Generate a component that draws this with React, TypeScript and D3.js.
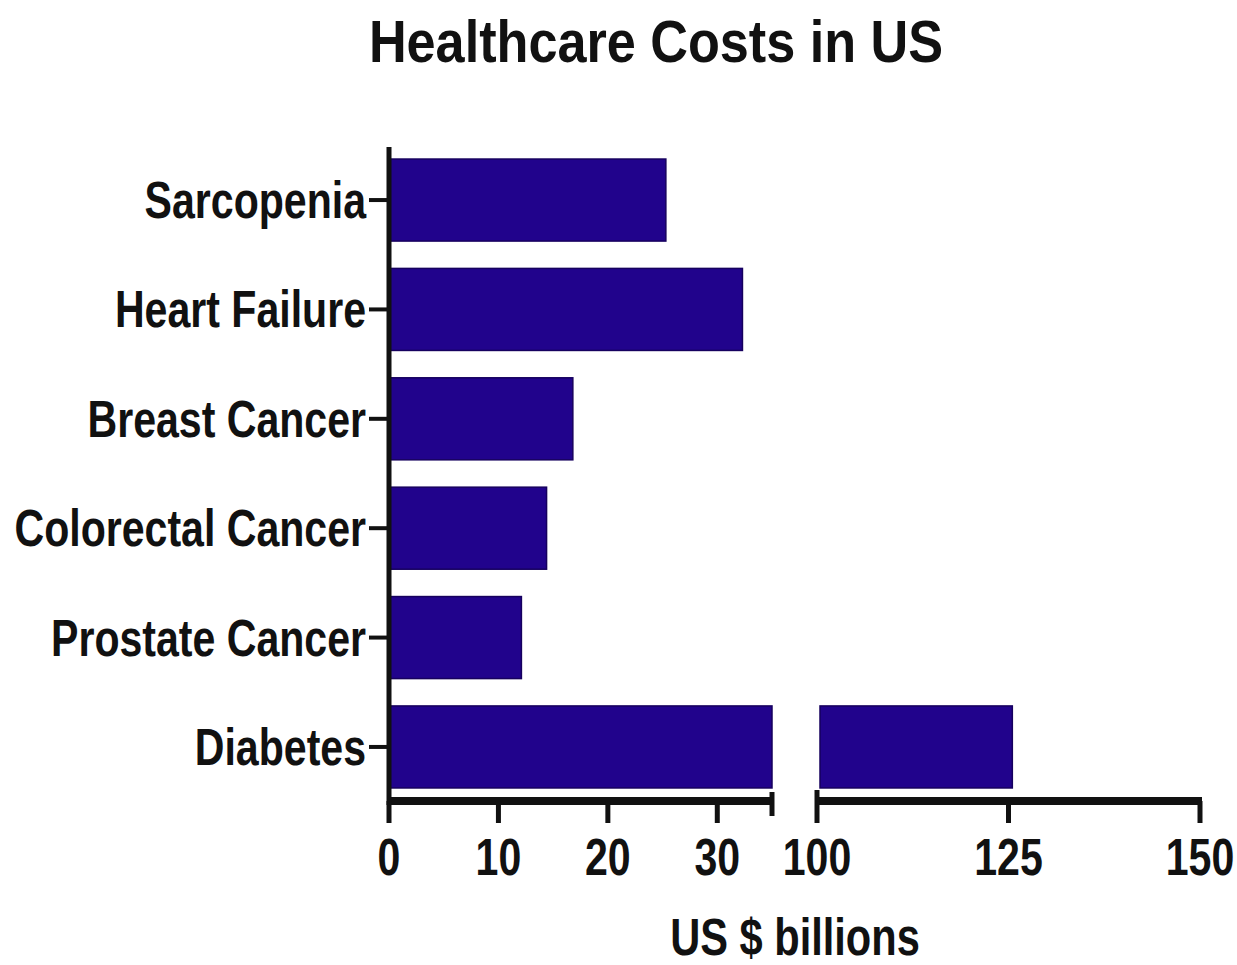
import React from "react";
import * as d3 from "d3";

const categories = ["Sarcopenia", "Heart Failure", "Breast Cancer", "Colorectal Cancer", "Prostate Cancer", "Diabetes"];
const values = [25.3, 32.3, 16.8, 14.4, 12.1, 125.5];
const lowTicks = [0, 10, 20, 30];
const highTicks = [100, 125, 150];
const lowDomain = [0, 35];
const highDomain = [100, 150];
const title = "Healthcare Costs in US";
const xTitle = "US $ billions";

const W = 1237;
const H = 965;
const FONT = "'Liberation Sans', Arial, Helvetica, sans-serif";
const BAR = "#21038c";
const BAR_EDGE = "#16005e";
const INK = "#111111";

function SText({ x, y, size, sx, anchor, children }: any) {
  return (
    <text
      transform={`translate(${x},${y}) scale(${sx},1)`}
      textAnchor={anchor}
      fontFamily={FONT}
      fontWeight="bold"
      fontSize={size}
      fill={INK}
    >
      {children}
    </text>
  );
}

export default function App() {
  const axisX = 389;
  const axisY = 801;
  const yTop = 147;

  const xLow = d3.scaleLinear().domain(lowDomain).range([389, 772]);
  const xHigh = d3.scaleLinear().domain(highDomain).range([817, 1200]);
  const y = d3
    .scaleBand<string>()
    .domain(categories)
    .range([yTop, 800])
    .paddingInner(0.25)
    .paddingOuter(0.11);

  const bw = y.bandwidth();

  return (
    <svg
      width={W}
      height={H}
      style={{ position: "absolute", left: 0, top: 0, background: "#ffffff" }}
    >
      <rect x={0} y={0} width={W} height={H} fill="#ffffff" />
      <SText x={656} y={62} size={60} sx={0.87} anchor="middle">
        {title}
      </SText>

      {/* bars */}
      {categories.map((c, i) => {
        const v = values[i];
        const y0 = y(c)!;
        const lowEnd = xLow(Math.min(v, lowDomain[1]));
        return (
          <g key={c}>
            <rect
              x={axisX + 1}
              y={y0}
              width={lowEnd - axisX - 1}
              height={bw}
              fill={BAR}
              stroke={BAR_EDGE}
              strokeWidth={1.5}
            />
            {v > highDomain[0] && (
              <rect
                x={xHigh(highDomain[0]) + 3}
                y={y0}
                width={xHigh(v) - xHigh(highDomain[0]) - 3}
                height={bw}
                fill={BAR}
                stroke={BAR_EDGE}
                strokeWidth={1.5}
              />
            )}
          </g>
        );
      })}

      {/* y axis */}
      <line x1={axisX} x2={axisX} y1={yTop} y2={axisY + 4} stroke={INK} strokeWidth={5} />
      {categories.map((c) => {
        const cy = y(c)! + bw / 2;
        return (
          <g key={c}>
            <line x1={369} x2={axisX} y1={cy} y2={cy} stroke={INK} strokeWidth={4} />
            <SText x={366} y={cy + 18} size={52} sx={0.79} anchor="end">
              {c}
            </SText>
          </g>
        );
      })}

      {/* x axis, broken */}
      <line x1={axisX - 2} x2={xLow(lowDomain[1])} y1={axisY} y2={axisY} stroke={INK} strokeWidth={8} />
      <line x1={xHigh(highDomain[0])} x2={xHigh(highDomain[1]) + 2} y1={axisY} y2={axisY} stroke={INK} strokeWidth={8} />
      {lowTicks.map((t) => (
        <g key={"l" + t}>
          <line x1={xLow(t)} x2={xLow(t)} y1={axisY} y2={823} stroke={INK} strokeWidth={5} />
          <SText x={xLow(t)} y={875} size={52} sx={0.79} anchor="middle">
            {t}
          </SText>
        </g>
      ))}
      <line
        x1={xLow(lowDomain[1])}
        x2={xLow(lowDomain[1])}
        y1={792}
        y2={816}
        stroke={INK}
        strokeWidth={5}
      />
      {highTicks.map((t) => (
        <g key={"h" + t}>
          <line
            x1={xHigh(t)}
            x2={xHigh(t)}
            y1={t === highDomain[0] ? 790 : axisY}
            y2={823}
            stroke={INK}
            strokeWidth={5}
          />
          <SText x={xHigh(t)} y={875} size={52} sx={0.79} anchor="middle">
            {t}
          </SText>
        </g>
      ))}

      <SText x={795} y={955} size={52} sx={0.8} anchor="middle">
        {xTitle}
      </SText>
    </svg>
  );
}
